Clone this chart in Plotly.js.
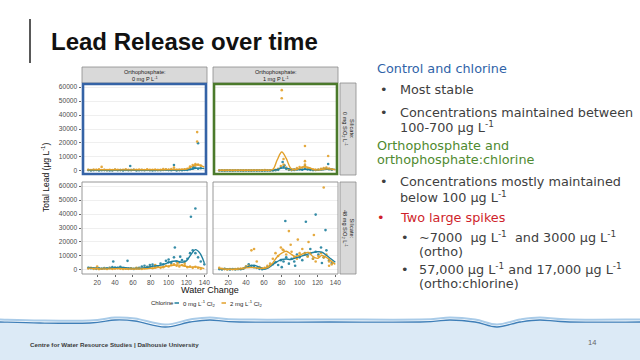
<!DOCTYPE html>
<html><head><meta charset="utf-8">
<script src="https://cdn.plot.ly/plotly-3.0.1.min.js"></script>
<style>html,body{margin:0;padding:0;background:#fff;}#chart{width:640px;height:360px;}</style>
</head><body><div id="chart"></div>
<script>
// ---------------- DATA ----------------
const waterChange = [10,13,16,19,22,25,28,31,34,37,40,43,46,49,52,55,58,61,64,67,70,73,76,79,82,85,88,91,94,97,100,103,106,109,112,115,118,121,124,127,130,133,136];
const smoothX = [10,15,20,25,30,35,40,45,50,55,60,65,70,75,80,85,90,95,100,105,110,115,120,125,130,135,140];
const xTicks = [20,40,60,80,100,120,140];
const yTicks = [0,10000,20000,30000,40000,50000,60000];
const orthoLabels = ['Orthophosphate:<br>0 mg P L<sup>-1</sup>','Orthophosphate:<br>1 mg P L<sup>-1</sup>'];
const silicateLabels = ['Silicate:<br>0 mg SiO<sub>2</sub> L<sup>-1</sup>','Silicate:<br>48 mg SiO<sub>2</sub> L<sup>-1</sup>'];
const chlorineNames = ['0 mg L<sup>-1</sup> Cl<sub>2</sub>','2 mg L<sup>-1</sup> Cl<sub>2</sub>'];

// Ortho 0 / Silicate 0
const lead_O0S0_Cl0 = [600,400,500,700,300,450,600,500,350,400,800,500,600,400,700,500,600,900,400,500,600,450,700,500,400,550,600,500,700,800,600,500,900,400,600,500,800,700,1200,1800,2200,1600,1900];
const extraX_O0S0_Cl0 = [57,106,133,128];
const extraY_O0S0_Cl0 = [3500,4300,19800,2600];
const lead_O0S0_Cl2 = [900,700,1000,800,1200,2900,800,600,900,700,1000,800,700,900,1100,800,700,900,800,1000,900,700,1200,800,900,1000,700,900,1300,1100,1000,1400,2500,900,800,1000,1200,1600,3200,4200,5000,4500,3800];
const extraX_O0S0_Cl2 = [132,132,130];
const extraY_O0S0_Cl2 = [27800,21000,3900];
const smooth_O0S0_Cl0 = [500,500,480,470,480,500,520,530,520,500,500,510,520,530,540,550,560,580,600,620,640,650,700,1100,1800,2000,1700];
const smooth_O0S0_Cl2 = [800,800,820,830,830,820,810,800,800,800,800,810,820,830,840,850,870,900,950,1000,1050,1100,1300,2800,4300,4200,2800];

// Ortho 1 / Silicate 0
const lead_O1S0_Cl0 = [300,250,200,300,250,200,300,350,250,200,300,250,200,300,250,300,200,250,300,350,400,500,800,2500,3000,1500,800,600,700,1000,1200,900,1500,1000,800,600,700,900,1200,1500,1800,1200,900];
const extraX_O1S0_Cl0 = [81,83,132,106];
const extraY_O1S0_Cl0 = [6400,4000,5000,3500];
const lead_O1S0_Cl2 = [500,450,400,500,450,400,500,550,450,400,500,450,400,500,550,500,450,600,500,550,700,900,1500,3500,4500,2500,1200,900,1200,2000,2800,2500,3000,2000,1500,1000,800,1000,1500,2000,2500,1800,1200];
const extraX_O1S0_Cl2 = [80,80,106,106,106,132,82];
const extraY_O1S0_Cl2 = [57800,52000,17800,7000,4500,10700,8500];
const smooth_O1S0_Cl0 = [300,300,300,300,300,300,300,300,300,300,300,350,400,1000,2000,2000,1300,1000,1000,1100,1100,900,800,900,1200,1300,1100];
const smooth_O1S0_Cl2 = [500,500,500,500,500,500,500,500,500,500,500,500,1000,8000,13600,9000,2000,900,1800,3000,2600,1200,800,1000,1500,1400,900];

// Ortho 0 / Silicate 48
const lead_O0S48_Cl0 = [1500,1200,1000,800,1200,900,1400,1100,1600,2000,1800,1500,2200,1300,1100,900,1000,700,1200,1500,2500,3000,2200,3500,3800,3000,2500,4500,4000,6500,7500,5000,9000,6000,5500,7000,6000,8000,12000,14000,12000,9000,6000];
const extraX_O0S48_Cl0 = [38,54,107,125,130,113,100,140];
const extraY_O0S48_Cl0 = [6000,6500,16000,38000,44000,9500,5500,4000];
const lead_O0S48_Cl2 = [1000,1500,800,1200,600,900,1100,700,1300,800,1000,1200,900,700,1000,800,1200,900,1500,1100,800,1300,1500,2000,1200,1800,2500,1500,2000,3000,2500,3500,4000,3000,2500,3500,3000,2000,2500,1500,2200,1500,800];
const extraX_O0S48_Cl2 = [20,110,118,85];
const extraY_O0S48_Cl2 = [2500,5000,4500,3500];
const smooth_O0S48_Cl0 = [1800,1500,1200,1000,1100,1300,1600,1800,1700,1400,1100,1000,1200,1700,2300,2900,3300,4200,5300,6200,6300,5500,6500,11000,14500,12000,5000];
const smooth_O0S48_Cl2 = [1300,1100,900,800,800,800,900,1000,900,800,700,700,800,900,1100,1400,1800,2300,2800,3300,3600,3200,2500,2000,2200,1800,900];

// Ortho 1 / Silicate 48
const lead_O1S48_Cl0 = [600,400,800,500,300,700,400,600,500,900,2500,4000,3000,2000,1500,800,500,1000,2000,3000,4000,5500,3500,7000,6000,9000,4500,8000,6000,11000,9000,7000,12000,10000,15000,8000,13000,11000,16000,9000,14000,7000,5000];
const extraX_O1S48_Cl0 = [84,107,118,129,80,95,125];
const extraY_O1S48_Cl0 = [35000,34500,39600,28500,2000,3000,5000];
const lead_O1S48_Cl2 = [1500,800,600,400,700,500,600,800,1000,1200,2500,3000,14000,15000,6000,2000,1200,1500,3000,4500,8000,12000,10000,16000,14000,11000,27800,13000,9000,8000,12000,15000,11000,9500,12000,8000,6000,10000,12000,9000,11000,6000,4000];
const extraX_O1S48_Cl2 = [127,116,98,81,90,110,133];
const extraY_O1S48_Cl2 = [59000,25000,21700,14600,18000,20000,3000];
const smooth_O1S48_Cl0 = [800,600,500,400,400,700,1800,3000,3300,2000,600,1500,4000,6000,7500,7800,7500,8500,9500,10500,11500,12500,13000,12800,10500,8000,5500];
const smooth_O1S48_Cl2 = [1000,700,500,400,500,900,1500,1800,1600,1200,1200,2000,5000,9500,12000,13400,11500,9700,10500,12000,12500,9500,8300,10400,9000,6500,4000];

// ---------------- STYLE / LAYOUT ----------------
const W = 640, H = 360;
const px = x => x / W;
const py = y => 1 - y / H;
const TEAL = '#1f7f9d', ORANGE = '#e2a12b';
const FONT = 'Liberation Sans, Arial, sans-serif';

const panels = [
  {ax:'', pts:[lead_O0S0_Cl0, lead_O0S0_Cl2], ex:[[extraX_O0S0_Cl0,extraY_O0S0_Cl0],[extraX_O0S0_Cl2,extraY_O0S0_Cl2]], sm:[smooth_O0S0_Cl0, smooth_O0S0_Cl2]},
  {ax:'2', pts:[lead_O1S0_Cl0, lead_O1S0_Cl2], ex:[[extraX_O1S0_Cl0,extraY_O1S0_Cl0],[extraX_O1S0_Cl2,extraY_O1S0_Cl2]], sm:[smooth_O1S0_Cl0, smooth_O1S0_Cl2]},
  {ax:'3', pts:[lead_O0S48_Cl0, lead_O0S48_Cl2], ex:[[extraX_O0S48_Cl0,extraY_O0S48_Cl0],[extraX_O0S48_Cl2,extraY_O0S48_Cl2]], sm:[smooth_O0S48_Cl0, smooth_O0S48_Cl2]},
  {ax:'4', pts:[lead_O1S48_Cl0, lead_O1S48_Cl2], ex:[[extraX_O1S48_Cl0,extraY_O1S48_Cl0],[extraX_O1S48_Cl2,extraY_O1S48_Cl2]], sm:[smooth_O1S48_Cl0, smooth_O1S48_Cl2]}
];
const colors = [TEAL, ORANGE];
const traces = [];
panels.forEach(p => {
  [0,1].forEach(c => {
    traces.push({type:'scatter', mode:'markers', x: waterChange.concat(p.ex[c][0]), y: p.pts[c].concat(p.ex[c][1]),
      xaxis:'x'+p.ax, yaxis:'y'+p.ax, marker:{color:colors[c], size:2.6, opacity:0.9}, showlegend:false, hoverinfo:'skip'});
  });
});
panels.forEach(p => {
  [0,1].forEach(c => {
    traces.push({type:'scatter', mode:'lines', x: smoothX, y: p.sm[c], name: chlorineNames[c],
      xaxis:'x'+p.ax, yaxis:'y'+p.ax, line:{color:colors[c], width:1.4, shape:'spline', smoothing:1}, showlegend:false, hoverinfo:'skip'});
  });
});

// panel boxes in px
const boxes = [
  {x0:82,x1:207,y0:83,y1:175},
  {x0:213,x1:338,y0:83,y1:175},
  {x0:82,x1:207,y0:182,y1:274},
  {x0:213,x1:338,y0:182,y1:274}
];
const layout = {
  width:W, height:H, margin:{l:0,r:0,t:0,b:0},
  paper_bgcolor:'#fff', plot_bgcolor:'#fff',
  font:{family:FONT, color:'#333'},
  showlegend:false,
  shapes:[], annotations:[]
};
boxes.forEach((b,i) => {
  const s = i===0 ? '' : String(i+1);
  const bottom = i>=2, left = (i%2===0);
  layout['xaxis'+s] = {domain:[px(b.x0),px(b.x1)], range:[3,143], anchor:'y'+s, tickvals:xTicks,
    showticklabels:bottom, ticks: bottom?'outside':'', ticklen:2, tickcolor:'#444', tickwidth:0.8,
    tickfont:{size:6.6,color:'#4d4d4d'}, showgrid:false, zeroline:false, showline:false, fixedrange:true};
  layout['yaxis'+s] = {domain:[py(b.y1),py(b.y0)], range:[-2900,62900], anchor:'x'+s, tickvals:yTicks, tickformat:'d',
    showticklabels:left, ticks: left?'outside':'', ticklen:2.5, tickcolor:'#444', tickwidth:0.8,
    tickfont:{size:6.6,color:'#4d4d4d'}, showgrid:true, gridcolor:'#e8e8e8', gridwidth:0.7, zeroline:false, showline:false, fixedrange:true};
});

function rectPx(x0,y0,x1,y1,opts){
  return Object.assign({type:'rect', xref:'paper', yref:'paper', x0:px(x0), x1:px(x1), y0:py(y1), y1:py(y0)}, opts);
}
// strips
layout.shapes.push(rectPx(82,67,207,83,{fillcolor:'#d9d9d9', line:{color:'#8a8a8a', width:0.8}}));
layout.shapes.push(rectPx(213,67,338,83,{fillcolor:'#d9d9d9', line:{color:'#8a8a8a', width:0.8}}));
layout.shapes.push(rectPx(340,83,356,175,{fillcolor:'#d9d9d9', line:{color:'#8a8a8a', width:0.8}}));
layout.shapes.push(rectPx(340,182,356,274,{fillcolor:'#d9d9d9', line:{color:'#8a8a8a', width:0.8}}));
// panel borders
layout.shapes.push(rectPx(83,84,206,174,{line:{color:'#3563a6', width:2.6}, layer:'above'}));
layout.shapes.push(rectPx(214,84,337,174,{line:{color:'#4b7a2b', width:2.6}, layer:'above'}));
layout.shapes.push(rectPx(82,182,207,274,{line:{color:'#8c8c8c', width:0.9}, layer:'above'}));
layout.shapes.push(rectPx(213,182,338,274,{line:{color:'#8c8c8c', width:0.9}, layer:'above'}));
// title bar line
layout.shapes.push({type:'line', xref:'paper', yref:'paper', x0:px(30), x1:px(30), y0:py(19), y1:py(63), line:{color:'#222', width:1.5}});
// legend keys
layout.shapes.push({type:'line', xref:'paper', yref:'paper', x0:px(174.5), x1:px(179), y0:py(303), y1:py(303), line:{color:TEAL, width:1.5}});
layout.shapes.push({type:'line', xref:'paper', yref:'paper', x0:px(221.5), x1:px(226), y0:py(303), y1:py(303), line:{color:ORANGE, width:1.5}});

// footer wave
function smoothPath(pts){
  let d = 'M ' + px(pts[0][0]) + ',' + py(pts[0][1]);
  for (let i=0;i<pts.length-1;i++){
    const p0 = pts[Math.max(0,i-1)], p1 = pts[i], p2 = pts[i+1], p3 = pts[Math.min(pts.length-1,i+2)];
    const c1 = [p1[0]+(p2[0]-p0[0])/6, p1[1]+(p2[1]-p0[1])/6];
    const c2 = [p2[0]-(p3[0]-p1[0])/6, p2[1]-(p3[1]-p1[1])/6];
    d += ' C ' + px(c1[0])+','+py(c1[1])+' '+px(c2[0])+','+py(c2[1])+' '+px(p2[0])+','+py(p2[1]);
  }
  return d;
}
const wave = [[0,322],[40,323],[90,323],[115,320],[135,321],[165,327],[190,322],[210,320],[240,322],[330,322],[420,322],[450,320],[475,322],[497,327],[520,322],[540,320],[570,322],[640,322]];
const wd = smoothPath(wave);
layout.shapes.push({type:'path', xref:'paper', yref:'paper', path: wd + ' L '+px(640)+','+py(360)+' L '+px(0)+','+py(360)+' Z', fillcolor:'#dceaf6', line:{width:0}, layer:'below'});
const wave2 = wave.map(p => [p[0], p[1]-2.5]);
layout.shapes.push({type:'path', xref:'paper', yref:'paper', path: smoothPath(wave2), line:{color:'#a9cbe8', width:2}, layer:'below'});
layout.shapes.push({type:'path', xref:'paper', yref:'paper', path: wd, line:{color:'#3f7fb8', width:1.3}, layer:'below'});

function ann(x,y,text,opts){
  return Object.assign({xref:'paper', yref:'paper', x:px(x), y:py(y), text:text, showarrow:false, xanchor:'left', yanchor:'middle'}, opts);
}
// title
layout.annotations.push(ann(49,41,'Lead Release over time',{font:{family:FONT, size:24, color:'#111', weight:'bold'}}));
// strips text
layout.annotations.push(ann(144.5,75,orthoLabels[0],{xanchor:'center', font:{size:5.6,color:'#1a1a1a'}}));
layout.annotations.push(ann(275.5,75,orthoLabels[1],{xanchor:'center', font:{size:5.6,color:'#1a1a1a'}}));
layout.annotations.push(ann(348,129,silicateLabels[0],{xanchor:'center', textangle:90, font:{size:5.6,color:'#1a1a1a'}}));
layout.annotations.push(ann(348,228,silicateLabels[1],{xanchor:'center', textangle:90, font:{size:5.6,color:'#1a1a1a'}}));
// axis titles
layout.annotations.push(ann(45,178,'Total Lead (µg L<sup>-1</sup>)',{xanchor:'center', textangle:-90, font:{size:8.5,color:'#111'}}));
layout.annotations.push(ann(210,290,'Water Change',{xanchor:'center', font:{size:9,color:'#111'}}));
// legend text
layout.annotations.push(ann(148.5,303,'Chlorine',{font:{size:6,color:'#222'}}));
layout.annotations.push(ann(180.5,303,chlorineNames[0],{font:{size:6,color:'#222'}}));
layout.annotations.push(ann(227.5,303,chlorineNames[1],{font:{size:6,color:'#222'}}));
// right text
const TF = 'DejaVu Sans, sans-serif', TS = 12.8, GREY = '#404040';
const BLUE = '#2f63a8', GREEN = '#4f8a2f', RED = '#cf1f2b';
const lines = [
  [375,68,'Control and chlorine',BLUE],
  [378,89,'•',GREY],[398,89,'Most stable',GREY],
  [378,112,'•',GREY],[398,112,'Concentrations maintained between',GREY],
  [398,127,'100-700 µg L<sup>-1</sup>',GREY],
  [375,145,'Orthophosphate and',GREEN],
  [375,159,'orthophosphate:chlorine',GREEN],
  [378,181,'•',GREY],[398,181,'Concentrations mostly maintained',GREY],
  [398,197,'below 100 µg L<sup>-1</sup>',GREY],
  [375,218,'•',RED],[398,218,'Two large spikes',RED],
  [399,237,'•',GREY],[417,237,'~7000  µg L<sup>-1</sup>  and 3000 µg L<sup>-1</sup>',GREY],
  [417,252,'(ortho)',GREY],
  [399,269,'•',GREY],[417,269,'57,000 µg L<sup>-1</sup> and 17,000 µg L<sup>-1</sup>',GREY],
  [417,283,'(ortho:chlorine)',GREY]
];
lines.forEach(l => layout.annotations.push(ann(l[0],l[1],l[2],{font:{family:TF,size:TS,color:l[3]}})));
// footer
layout.annotations.push(ann(28,344,'Centre for Water Resource Studies | Dalhousie University',{font:{size:6.2,color:'#3a3a3a',weight:'bold'}}));
layout.annotations.push(ann(592,342,'14',{xanchor:'center', font:{size:7.5,color:'#666'}}));

Plotly.newPlot('chart', traces, layout, {staticPlot:true, displayModeBar:false});
</script></body></html>
